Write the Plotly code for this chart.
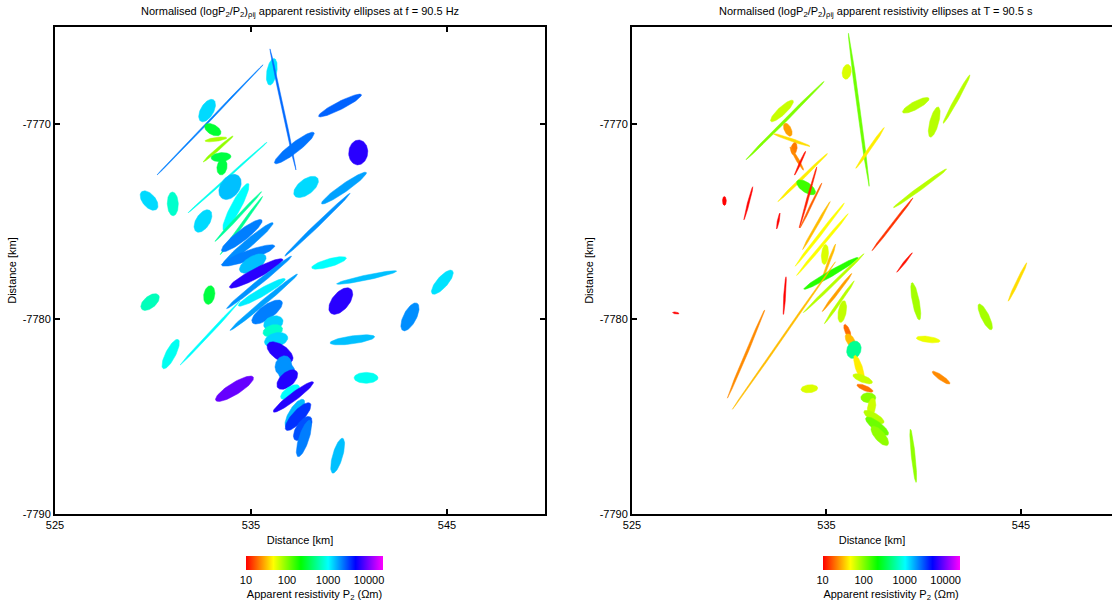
import numpy as np
import plotly.graph_objects as go
import plotly.colors as pc

# ---------------- data (km, km, km, km, deg, ohm-m) ----------------
# Panel 1: f = 90.5 Hz
p1_x = [532.91, 536.06, 536.63, 532.76, 533.05, 533.21, 533.32, 533.47, 533.52, 533.80,
        533.93, 537.81, 539.54, 537.21, 540.47, 539.74, 529.80, 531.01, 532.55, 532.87,
        529.85, 530.90, 532.91, 534.23, 534.35, 534.51, 534.53, 534.85, 534.85, 535.09,
        535.26, 535.55, 535.41, 535.65, 535.82, 536.14, 536.11, 536.28, 536.48, 536.65,
        536.82, 536.85, 536.99, 537.16, 537.24, 537.40, 537.64, 537.70, 534.16, 540.87,
        539.42, 538.39, 538.98, 540.90, 544.76, 539.58, 543.11, 540.17]
p1_y = [-7769.77, -7767.30, -7769.23, -7769.29, -7770.27, -7770.77, -7771.26, -7771.68, -7772.19, -7772.73,
        -7773.21, -7773.21, -7769.03, -7771.21, -7771.44, -7773.27, -7773.91, -7774.08, -7774.96, -7778.76,
        -7779.12, -7781.79, -7780.71, -7774.23, -7774.73, -7775.19, -7775.71, -7776.12, -7776.73, -7777.14,
        -7777.65, -7778.62, -7778.11, -7779.13, -7779.63, -7780.20, -7780.60, -7781.06, -7781.70, -7782.38,
        -7782.72, -7783.10, -7783.74, -7783.99, -7784.85, -7785.00, -7785.61, -7786.12, -7783.57, -7783.01,
        -7787.01, -7775.15, -7777.11, -7777.86, -7778.10, -7779.07, -7779.88, -7781.06]
p1_major = [7.83, 1.38, 6.36, 1.28, 0.92, 1.12, 2.03, 1.02, 0.82, 5.42,
            1.43, 1.48, 2.45, 2.55, 1.28, 2.79, 1.18, 1.22, 1.29, 0.97,
            1.12, 1.68, 4.48, 2.70, 3.49, 3.69, 2.60, 3.32, 2.89, 1.53,
            3.08, 2.76, 4.27, 4.49, 1.86, 1.02, 1.02, 1.22, 1.53, 1.02,
            0.92, 1.28, 1.12, 2.55, 1.69, 1.84, 1.42, 1.96, 2.26, 1.22,
            1.86, 4.64, 1.84, 3.13, 1.57, 1.61, 1.58, 2.30]
p1_minor = [0.09, 0.51, 0.11, 0.66, 0.51, 0.20, 0.15, 0.46, 0.51, 0.10,
            0.97, 0.77, 0.41, 0.51, 0.97, 0.41, 0.66, 0.56, 0.71, 0.56,
            0.61, 0.51, 0.13, 0.51, 0.15, 0.15, 0.56, 0.41, 0.51, 0.71,
            0.51, 0.41, 0.26, 0.26, 0.71, 0.71, 0.61, 0.71, 0.77, 0.82,
            0.82, 0.71, 0.51, 0.41, 0.61, 0.61, 0.66, 0.51, 0.61, 0.56,
            0.51, 0.20, 0.41, 0.26, 0.56, 0.87, 0.66, 0.41]
p1_angle = [46.3, 80, -78, 60, -30, 8, 41, 5, 80, 42,
            55, 38, 27, 38, 85, 35, -50, 92, 58, 80,
            40, 63, 47, 62, 47, 54, 38, 40, 20, 31,
            28, 30, 39, 40, 36, 20, 15, 15, -35, 70,
            80, 42, 35, 37, 59, 48, 57, 72, 32, 0,
            74, 44, 16, 12, 49, 51, 63, 8]
p1_rho = [2200, 1170, 2500, 1260, 295, 78, 91, 325, 325, 910,
          1480, 1260, 2600, 2350, 6000, 1780, 1260, 740, 1260, 320,
          670, 930, 1000, 1000, 550, 530, 2200, 2000, 2200, 1480,
          6000, 1120, 1950, 1780, 2200, 1350, 740, 1300, 5800, 1950,
          1950, 5800, 1000, 5800, 1550, 3500, 2900, 2200, 8700, 930,
          1480, 1950, 1000, 1480, 1200, 6000, 2000, 1480]

# Panel 2: T = 90.5 s
p2_x = [536.66, 536.04, 532.71, 532.87, 533.01, 533.21, 533.33, 533.47, 533.64, 533.77,
        533.95, 537.24, 539.59, 541.69, 540.54, 539.81, 529.75, 530.98, 538.39, 532.52,
        534.05, 534.20, 534.48, 534.65, 534.79, 534.92, 535.13, 535.23, 535.37, 535.54,
        535.66, 535.81, 532.81, 530.86, 532.85, 527.25, 539.01, 536.07, 536.24, 536.41,
        536.67, 536.86, 536.98, 534.12, 537.15, 537.32, 537.44, 537.60, 537.74, 539.46,
        540.23, 540.89, 539.59, 543.16, 544.82]
p2_y = [-7769.25, -7767.30, -7769.31, -7769.80, -7770.27, -7770.80, -7771.24, -7771.75, -7771.99, -7772.73,
        -7773.23, -7771.21, -7769.02, -7768.70, -7769.88, -7773.28, -7773.93, -7774.05, -7775.13, -7774.96,
        -7773.75, -7774.16, -7775.19, -7775.66, -7776.17, -7776.68, -7777.03, -7777.65, -7778.15, -7778.63,
        -7779.13, -7779.61, -7780.84, -7781.79, -7778.79, -7779.68, -7777.09, -7780.60, -7781.11, -7781.57,
        -7782.50, -7783.06, -7783.54, -7783.57, -7784.03, -7784.51, -7785.02, -7785.49, -7785.99, -7787.01,
        -7781.04, -7783.00, -7779.08, -7779.88, -7778.09]
p2_major = [7.93, 0.77, 1.57, 5.68, 0.72, 1.99, 0.62, 1.38, 1.36, 3.55,
            1.13, 2.56, 1.54, 2.84, 1.60, 3.38, 0.46, 1.76, 3.44, 0.84,
            3.26, 2.57, 2.85, 4.12, 4.14, 1.03, 1.91, 3.23, 4.35, 2.48,
            2.68, 1.13, 9.25, 4.92, 1.94, 0.33, 1.28, 0.72, 0.82, 0.92,
            1.35, 1.07, 0.89, 0.87, 0.77, 0.92, 1.18, 1.44, 1.25, 2.75,
            1.23, 1.10, 1.95, 1.47, 2.19]
p2_minor = [0.15, 0.46, 0.41, 0.15, 0.36, 0.15, 0.31, 0.15, 0.10, 0.15,
            0.51, 0.15, 0.41, 0.20, 0.46, 0.20, 0.20, 0.10, 0.12, 0.10,
            0.10, 0.10, 0.13, 0.15, 0.15, 0.36, 0.13, 0.31, 0.15, 0.15,
            0.15, 0.41, 0.10, 0.13, 0.10, 0.10, 0.10, 0.26, 0.41, 0.72,
            0.36, 0.36, 0.26, 0.41, 0.51, 0.41, 0.41, 0.46, 0.51, 0.20,
            0.31, 0.26, 0.36, 0.41, 0.15]
p2_angle = [-82.3, 80, 43, 45, -65, -19, 80, -60, 65, 44,
            -35, 55, 28, 61, 75, 36, 90, 75, 52, 78,
            74, 64, 60, 52, 50, 85, 69, 30, 44, 52,
            55, 80, 55, 67, 86, -9, 51, -68, -58, 70,
            -72, -22, -23, 5, 0, 80, -30, -37, -49, -84,
            -8, -35, -79, -64, 64]
p2_rho = [112, 58, 65, 100, 26, 38, 21, 23, 11, 42,
          150, 42, 72, 72, 72, 72, 10, 10, 13.5, 10,
          12, 18, 31, 47, 47, 58, 31, 173, 72, 26,
          72, 68, 31, 23, 10, 10, 11, 19, 31, 520,
          42, 65, 20, 58, 95, 63, 72, 112, 91, 91,
          52, 23, 80, 80, 38]

x_ticks = [525, 535, 545]
y_ticks = [-7790, -7780, -7770]
y_ticklabels = ["-7790", "-7780", "-7770"]
cbar_tickvals = [1, 2, 3, 4]
cbar_ticktext = ["10", "100", "1000", "10000"]
titles = ["Normalised (logP<sub>2</sub>/P<sub>2</sub>)<sub>ρij</sub> apparent resistivity ellipses at f = 90.5 Hz",
          "Normalised (logP<sub>2</sub>/P<sub>2</sub>)<sub>ρij</sub> apparent resistivity ellipses at T = 90.5 s"]

# ---------------- styling ----------------
LOG_MIN, LOG_MAX = 1.0, 4.34
colorscale = [[0.0, "rgb(255,0,0)"], [0.2, "rgb(255,255,0)"], [0.4, "rgb(0,255,0)"],
              [0.6, "rgb(0,255,255)"], [0.8, "rgb(0,0,255)"], [1.0, "rgb(255,0,255)"]]
FONT = "Liberation Sans, Arial, sans-serif"


def color_for(rho):
    t = (np.log10(rho) - LOG_MIN) / (LOG_MAX - LOG_MIN)
    t = float(min(max(t, 0.0), 1.0))
    return pc.sample_colorscale(colorscale, [t])[0]


def ellipse(cx, cy, major, minor, ang):
    t = np.linspace(0, 2 * np.pi, 72)
    a, b = major / 2.0, minor / 2.0
    th = np.deg2rad(ang)
    x = cx + a * np.cos(th) * np.cos(t) - b * np.sin(th) * np.sin(t)
    y = cy + a * np.sin(th) * np.cos(t) + b * np.cos(th) * np.sin(t)
    return x, y


fig = go.Figure()

panels = [
    (p1_x, p1_y, p1_major, p1_minor, p1_angle, p1_rho, "x", "y"),
    (p2_x, p2_y, p2_major, p2_minor, p2_angle, p2_rho, "x2", "y2"),
]
for xs, ys, mj, mn, an, rh, xa, ya in panels:
    for i in range(len(xs)):
        ex, ey = ellipse(xs[i], ys[i], mj[i], mn[i], an[i])
        c = color_for(rh[i])
        fig.add_trace(go.Scatter(x=ex, y=ey, mode="lines", fill="toself",
                                 fillcolor=c, line=dict(color=c, width=0.5),
                                 hoverinfo="skip", showlegend=False,
                                 xaxis=xa, yaxis=ya))

# colorbars
cb_centers = [0.2455, 0.791]
for (xs, ys, xa, ya), cx in zip([(p1_x, p1_y, "x", "y"), (p2_x, p2_y, "x2", "y2")], cb_centers):
    fig.add_trace(go.Scatter(
        x=[xs[0]], y=[ys[0]], mode="markers", xaxis=xa, yaxis=ya,
        hoverinfo="skip", showlegend=False,
        marker=dict(size=1, opacity=0, color=[LOG_MIN], cmin=LOG_MIN, cmax=LOG_MAX,
                    colorscale=colorscale, showscale=True,
                    colorbar=dict(orientation="h", x=cx, xanchor="center",
                                  y=-0.0862, yanchor="top", len=137, lenmode="pixels",
                                  thickness=14, xpad=0, ypad=0, outlinewidth=0,
                                  tickvals=cbar_tickvals, ticktext=cbar_ticktext,
                                  ticks="", tickfont=dict(size=11, color="black", family=FONT),
                                  title=dict(text="Apparent resistivity P<sub>2</sub> (Ωm)",
                                             side="bottom",
                                             font=dict(size=11, color="black", family=FONT))))))

axis_common = dict(showgrid=False, zeroline=False, showline=True, linecolor="black",
                   linewidth=2, ticks="inside", ticklen=5, tickwidth=2, tickcolor="black",
                   automargin=False,
                   tickfont=dict(size=11, color="black", family=FONT))

fig.update_layout(
    width=1112, height=606,
    margin=dict(l=55, r=0, t=27, b=92),
    paper_bgcolor="white", plot_bgcolor="white",
    font=dict(family=FONT, size=11, color="black"),
    showlegend=False,
    xaxis=dict(domain=[0, 0.4636], range=[525, 550], tickvals=x_ticks, mirror="allticks",
               title=dict(text="Distance [km]", standoff=6, font=dict(size=11)),
               anchor="y", **axis_common),
    yaxis=dict(domain=[0, 1], range=[-7790, -7765], tickvals=y_ticks, ticktext=y_ticklabels,
               mirror="allticks",
               title=dict(text="Distance [km]", standoff=4, font=dict(size=11)),
               anchor="x", **axis_common),
    xaxis2=dict(domain=[0.5459, 1.0], range=[525, 549.68], tickvals=x_ticks, mirror=True,
                title=dict(text="Distance [km]", standoff=6, font=dict(size=11)),
                anchor="y2", **axis_common),
    yaxis2=dict(domain=[0, 1], range=[-7790, -7765], tickvals=y_ticks, ticktext=y_ticklabels,
                mirror=False,
                title=dict(text="Distance [km]", standoff=4, font=dict(size=11)),
                anchor="x2", **axis_common),
    annotations=[
        dict(text=titles[0], x=0.2318, y=1.03, xref="paper", yref="paper",
             xanchor="center", yanchor="middle", showarrow=False,
             font=dict(size=11, color="black", family=FONT)),
        dict(text=titles[1], x=0.7767, y=1.03, xref="paper", yref="paper",
             xanchor="center", yanchor="middle", showarrow=False,
             font=dict(size=11, color="black", family=FONT)),
    ],
)

fig.write_html("out.html", config={"displayModeBar": False},
               post_script="document.body.style.margin='0';document.body.style.overflow='hidden';")
